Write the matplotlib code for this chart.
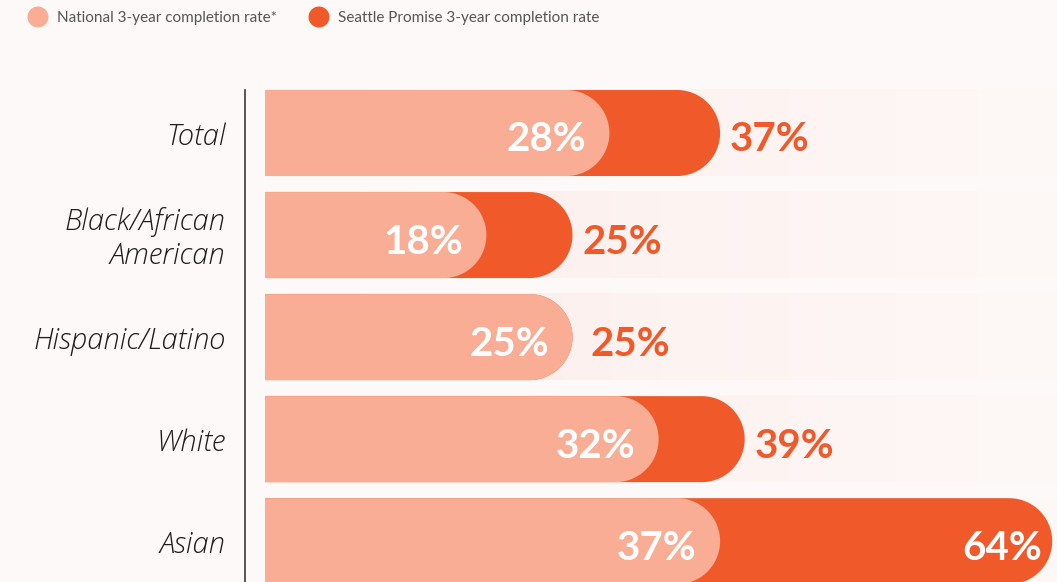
import numpy as np
import matplotlib
matplotlib.use("Agg")
import matplotlib.pyplot as plt
from matplotlib.patches import Polygon, Ellipse
from matplotlib.colors import LinearSegmentedColormap

# groups and completion rates (%)
groups = ["Total", "Black/African\nAmerican", "Hispanic/Latino", "White", "Asian"]
national = [28, 18, 25, 32, 37]
seattle = [37, 25, 25, 39, 64]

legend_labels = ["National 3-year completion rate*", "Seattle Promise 3-year completion rate"]

LIGHT = "#f8ad94"
DARK = "#f05a2b"
BG = "#fdf9f8"

W, H = 1057, 582
fig = plt.figure(figsize=(W / 100, H / 100), dpi=100, facecolor=BG)

# axes spans from the divider line to the right edge
ax_left, ax_right = 245, 1057
ax_top, ax_bot = 82, 582
ax = fig.add_axes([ax_left / W, 1 - ax_bot / H, (ax_right - ax_left) / W, (ax_bot - ax_top) / H])
ax.set_facecolor(BG)

px_per_unit = 12.3
xmin = -(265 - ax_left) / px_per_unit
xmax = xmin + (ax_right - ax_left) / px_per_unit
ymin, ymax = 4.40, -0.50
bar_h = 0.843
px_per_row = (ax_bot - ax_top) / (ymin - ymax)
rx = (bar_h / 2) * px_per_row / px_per_unit  # semicircle cap radius in x units

band_cmap = LinearSegmentedColormap.from_list("band", ["#fcebe6", "#fdf3f1", "#fdf8f7"])
grad = np.linspace(0, 1, 256).reshape(1, -1)

label_font = dict(fontsize=29, fontweight="bold", family="Lato", zorder=5)


def rounded_bar(y, w, color):
    ry = bar_h / 2
    t = np.linspace(-np.pi / 2, np.pi / 2, 80)
    start = max(w - rx, 0)
    xs = start + rx * np.cos(t)
    ys = y + ry * np.sin(t)
    verts = [(0, y - ry)] + list(zip(xs, ys)) + [(0, y + ry)]
    ax.add_patch(Polygon(verts, closed=True, facecolor=color, edgecolor="none", zorder=3))


for i, (g, n, s) in enumerate(zip(groups, national, seattle)):
    # faint background band
    ax.imshow(grad, cmap=band_cmap, aspect="auto", zorder=1,
              extent=[0, xmax, i + bar_h / 2, i - bar_h / 2])
    rounded_bar(i, s, DARK)
    rounded_bar(i, n, LIGHT)

    ax.annotate(f"{n}%", (n, i), xytext=(-17, -5), textcoords="offset points",
                ha="right", va="center", color="white", **label_font)
    if s > 50:
        ax.annotate(f"{s}%", (s, i), xytext=(-7, -5), textcoords="offset points",
                    ha="right", va="center", color="white", **label_font)
    else:
        off = 13 if s == n else 7
        ax.annotate(f"{s}%", (s, i), xytext=(off, -5), textcoords="offset points",
                    ha="left", va="center", color=DARK, **label_font)

    ax.annotate(g, (xmin, i), xytext=(-14, -3), textcoords="offset points",
                ha="right", va="center", fontsize=21, style="italic",
                fontweight=300, family="Open Sans", color="#1e1e1e",
                linespacing=1.2, annotation_clip=False)

ax.set_xlim(xmin, xmax)
ax.set_ylim(ymin, ymax)
for side in ["top", "right", "bottom"]:
    ax.spines[side].set_visible(False)
ax.spines["left"].set_color("#3a3a3a")
ax.spines["left"].set_linewidth(1.2)
ax.spines["left"].set_bounds(ymin, -0.42)
ax.set_xticks([])
ax.set_yticks([])

# legend along the top
for cx, label, col in [(38, legend_labels[0], LIGHT), (319, legend_labels[1], DARK)]:
    fig.patches.append(Ellipse((cx / W, 1 - 17 / H), 21 / W, 21 / H, transform=fig.transFigure,
                               facecolor=col, edgecolor="none"))
    fig.text((cx + 19) / W, 1 - 18 / H, label, ha="left", va="center",
             fontsize=11, color="#555555", family="Lato")

fig.savefig("out.png", dpi=100, facecolor=BG)
